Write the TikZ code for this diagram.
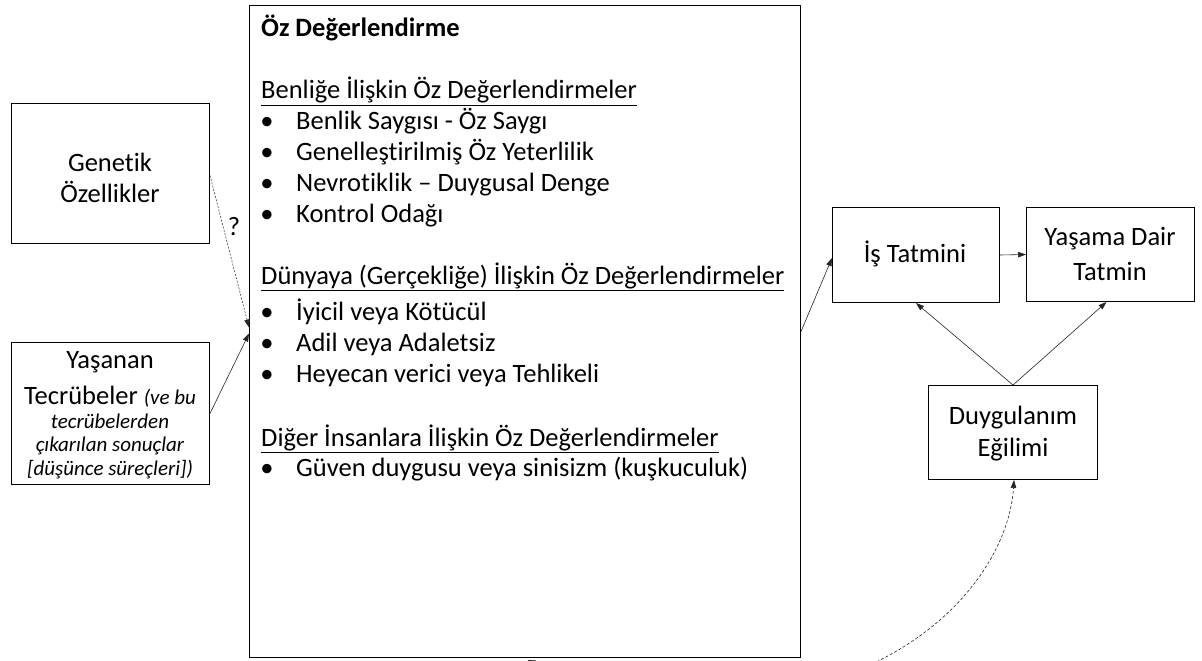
\documentclass[tikz,border=0pt]{standalone}
\usepackage{fontspec}
\setmainfont{Carlito}[Ligatures=NoCommon]
\usetikzlibrary{arrows.meta,calc}
\begin{document}
\begin{tikzpicture}[x=1pt,y=-1pt,
  box/.style={draw, line width=1pt, inner sep=0pt, anchor=north west},
  txt/.style={inner sep=0pt, font=\fontsize{26.5}{31}\selectfont},
  small/.style={inner sep=0pt, font=\fontsize{21}{25}\selectfont\itshape},
  item/.style={txt, anchor=base west},
  bul/.style={txt, anchor=base},
  conn/.style={line width=0.6pt, black!85, -{Triangle[length=8pt,width=5.5pt]}},
  dconn/.style={conn, dash pattern=on 3pt off 2pt}]
\useasboundingbox (0,0) rectangle (1202,661);
\clip (0,0) rectangle (1202,661);
\fill[white] (0,0) rectangle (1202,661);

% boxes
\node[box, minimum width=551pt, minimum height=652pt] (oz) at (249,5) {};
\node[box, minimum width=198pt, minimum height=140pt] (gen) at (11,103) {};
\node[box, minimum width=198pt, minimum height=142pt] (yt) at (11,342) {};
\node[box, minimum width=167pt, minimum height=95pt] (is) at (832,207) {};
\node[box, minimum width=168pt, minimum height=94pt] (yas) at (1026,207) {};
\node[box, minimum width=169pt, minimum height=94pt] (duy) at (928,385) {};

% big box text
\node[item] (t0) at (261,37) {\bfseries Öz Değerlendirme};
\node[item] (h1) at (261,99) {\underline{Benliğe İlişkin Öz Değerlendirmeler}};
\node[bul] (b1) at (267,129) {•}; \node[item] (i1) at (296,129) {Benlik Saygısı - Öz Saygı};
\node[bul] (b2) at (267,160) {•}; \node[item] (i2) at (296,160) {Genelleştirilmiş Öz Yeterlilik};
\node[bul] (b3) at (267,191) {•}; \node[item] (i3) at (296,191) {Nevrotiklik – Duygusal Denge};
\node[bul] (b4) at (267,222) {•}; \node[item] (i4) at (296,222) {Kontrol Odağı};
\node[item] (h2) at (261,284) {\underline{Dünyaya (Gerçekliğe) İlişkin Öz Değerlendirmeler}};
\node[bul] (b5) at (267,320) {•}; \node[item] (i5) at (296,320) {İyicil veya Kötücül};
\node[bul] (b6) at (267,351) {•}; \node[item] (i6) at (296,351) {Adil veya Adaletsiz};
\node[bul] (b7) at (267,382) {•}; \node[item] (i7) at (296,382) {Heyecan verici veya Tehlikeli};
\node[item] (h3) at (261,446) {\underline{Diğer İnsanlara İlişkin Öz Değerlendirmeler}};
\node[bul] (b8) at (267,476) {•}; \node[item] (i8) at (296,476) {Güven duygusu veya sinisizm (kuşkuculuk)};

% small box texts
\node[txt] (g1) at (110,162) {Genetik};
\node[txt] (g2) at (110,192) {Özellikler};
\node[txt] (y1) at (110,362) {Yaşanan};
\node[txt, anchor=base] (y2) at (110,404) {Tecrübeler {\fontsize{21}{25}\selectfont\itshape (ve bu}};
\node[small] (y3) at (110,421) {tecrübelerden};
\node[small] (y4) at (110,446) {çıkarılan sonuçlar};
\node[small] (y5) at (110,470) {[düşünce süreçleri])};
\node[txt] (s1) at (915,254) {İş Tatmini};
\node[txt] (s2) at (1110,239) {Yaşama Dair};
\node[txt] (s3) at (1110,271) {Tatmin};
\node[txt] (d1) at (1013,418) {Duygulanım};
\node[txt] (d2) at (1013,450) {Eğilimi};
\node[txt] (q) at (234,227) {?};

% connectors
\draw[dconn, line width=0.5pt, dash pattern=on 2pt off 1.5pt] ([yshift=-2pt]gen.east) -- ([yshift=4pt]oz.west);
\draw[conn] (yt.east) -- ([yshift=-2pt]oz.west);
\draw[conn] (oz.east) -- ([yshift=-3pt]is.west);
\draw[conn] (is.east) -- (yas.west);
\draw[conn] (duy.north) -- (is.south);
\draw[conn] (duy.north) -- ([xshift=-4pt]yas.south);
\coordinate (c1) at (872,664);
\draw[dconn] (c1) .. controls (965,620) and (1010,545) .. ([xshift=1pt]duy.south);
\coordinate (c2) at (565,676);
\draw[conn] (c2) -- ([xshift=2.5pt,yshift=-2pt]oz.south);
\end{tikzpicture}
\end{document}
